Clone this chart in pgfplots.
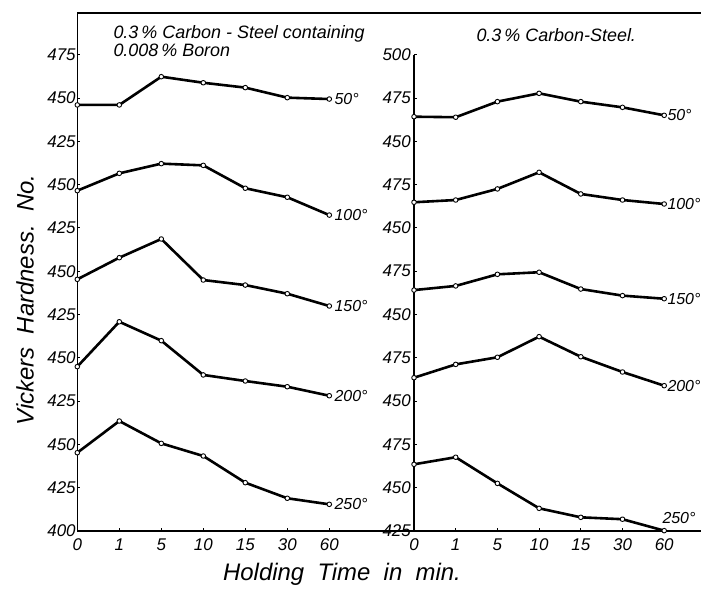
\documentclass[border=0pt]{standalone}
\usepackage{pgfplots}
\pgfplotsset{compat=1.18}
\usepackage{pgfplotstable}
\usepackage{fontspec}
\setmainfont{Liberation Sans}

% real hardness values, 0.3% C-steel with 0.008% B
\pgfplotstableread{
t b50 b100 b150 b200 b250
0 446.0 446.5 445.3 444.9 445.2
1 446.0 456.5 457.8 470.8 463.5
2 462.3 462.1 468.6 459.9 450.6
3 458.8 461.1 444.9 440.1 443.3
4 456.0 447.9 442.0 436.6 427.9
5 450.2 442.7 437.0 433.3 418.9
6 449.4 432.4 429.9 428.1 415.4
}\tabL

% real hardness values, 0.3% C-steel
\pgfplotstableread{
t b50 b100 b150 b200 b250
0 464.2 464.8 464.1 463.5 463.5
1 463.9 466.1 466.5 471.2 467.6
2 472.9 472.5 473.2 475.3 452.5
3 477.7 482.1 474.4 487.2 438.1
4 472.9 469.6 464.7 475.6 432.9
5 469.6 466.1 460.9 466.8 431.8
6 465.0 463.8 459.1 458.9 425.2
}\tabR

\tikzset{endlab/.style={font=\fontsize{16}{16}\selectfont\itshape, inner sep=1bp}}
\pgfplotsset{
  crv/.style={black, solid, line width=2.6bp, line join=round,
      mark=*, mark size=2.3bp, mark options={fill=white, line width=0.9bp}},
  panel/.style={
    anchor=south west, y=1.732bp, ymin=400,
    axis x line*=bottom, axis y line*=left,
    axis line style={line width=1.5bp},
    xtick={0,...,6}, xticklabels={0,1,5,10,15,30,60},
    ticklabel style={font=\fontsize{17}{17}\selectfont\itshape},
    xticklabel style={yshift=-4bp},
    /pgf/number format/assume math mode=true,
    clip=false,
    tick style={line width=0.8bp,black},
    major tick length=3bp, tick align=inside,
  },
}

\begin{document}
\begin{tikzpicture}
\useasboundingbox (0,0) rectangle (701bp,591bp);

% left panel
\begin{axis}[panel, at={(77.3bp,60bp)}, x=42bp, xmin=0, xmax=14.85, ymax=699,
  ytick={400,425,...,675},
  yticklabels={400,425,450,425,450,425,450,425,450,425,450,475},
  yticklabel style={inner sep=1.5bp}]
\addplot[crv] table[x=t, y expr=\thisrow{b50}+200]{\tabL} node[pos=1, anchor=west, endlab, xshift=3bp]{50°};
\addplot[crv] table[x=t, y expr=\thisrow{b100}+150]{\tabL} node[pos=1, anchor=west, endlab, xshift=3bp]{100°};
\addplot[crv] table[x=t, y expr=\thisrow{b150}+100]{\tabL} node[pos=1, anchor=west, endlab, xshift=3bp]{150°};
\addplot[crv] table[x=t, y expr=\thisrow{b200}+50]{\tabL} node[pos=1, anchor=west, endlab, xshift=3bp]{200°};
\addplot[crv] table[x=t, y=b250]{\tabL} node[pos=1, anchor=west, endlab, xshift=3bp]{250°};
\draw[line width=1.5bp] (rel axis cs:0,1) -- (rel axis cs:1,1);
\end{axis}

% right panel
\begin{axis}[panel, at={(414bp,60bp)}, x=41.7bp, xmin=0, xmax=6.88, ymax=675,
  ytick={400,425,...,675},
  yticklabels={425,450,475,450,475,450,475,450,475,450,475,500},
  yticklabel style={inner sep=3bp}]
\addplot[crv] table[x=t, y expr=\thisrow{b50}+175]{\tabR} node[pos=1, anchor=west, endlab, xshift=1bp]{50°};
\addplot[crv] table[x=t, y expr=\thisrow{b100}+125]{\tabR} node[pos=1, anchor=west, endlab, xshift=1bp]{100°};
\addplot[crv] table[x=t, y expr=\thisrow{b150}+75]{\tabR} node[pos=1, anchor=west, endlab, xshift=1bp]{150°};
\addplot[crv] table[x=t, y expr=\thisrow{b200}+25]{\tabR} node[pos=1, anchor=west, endlab, xshift=1bp]{200°};
\addplot[crv] table[x=t, y expr=\thisrow{b250}-25]{\tabR} node[pos=1, anchor=south west, endlab, xshift=-4bp, yshift=5bp]{250°};
\end{axis}

% titles and axis labels
\node[anchor=west, font=\fontsize{18}{18}\selectfont\itshape] at (110bp,557bp) {0.3\,\% Carbon - Steel containing};
\node[anchor=west, font=\fontsize{18}{18}\selectfont\itshape] at (110bp,541bp) {0.008\,\% Boron};
\node[anchor=west, font=\fontsize{18}{18}\selectfont\itshape] at (473bp,556bp) {0.3\,\% Carbon-Steel.};
\node[rotate=90, font=\fontsize{24}{24}\selectfont\itshape] at (25bp,291bp) {Vickers\ \ Hardness.\ \ No.};
\node[font=\fontsize{24}{24}\selectfont\itshape] at (342bp,17bp) {Holding\ \ Time\ \ in\ \ min.};
\end{tikzpicture}
\end{document}
